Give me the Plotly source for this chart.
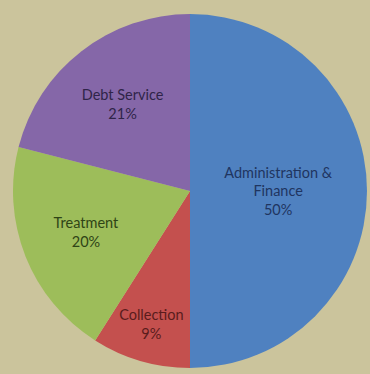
import plotly.graph_objects as go

labels = ["Administration &<br>Finance", "Collection", "Treatment", "Debt Service"]
values = [50, 9, 20, 21]
colors = ["#4f81c0", "#c4504e", "#9dbd5a", "#8567a8"]
text_colors = ["#1f3560", "#5a1c1c", "#2f4416", "#2f2448"]

fig = go.Figure(go.Pie(
    labels=labels,
    values=values,
    sort=False,
    direction="clockwise",
    rotation=0,
    marker=dict(colors=colors, line=dict(width=0)),
    texttemplate="%{label}<br>%{percent:.0%}",
    textposition="inside",
    insidetextorientation="horizontal",
    textfont=dict(family="Lato, Open Sans, sans-serif", size=14.5, color=text_colors),
    hoverinfo="label+percent",
    showlegend=False,
    domain=dict(x=[13/370, 367/370], y=[5/374, 361/374]),
))

fig.update_layout(
    width=370, height=374,
    margin=dict(l=0, r=0, t=0, b=0),
    paper_bgcolor="#cbc49c",
    plot_bgcolor="#cbc49c",
)

fig.write_html("out.html")
